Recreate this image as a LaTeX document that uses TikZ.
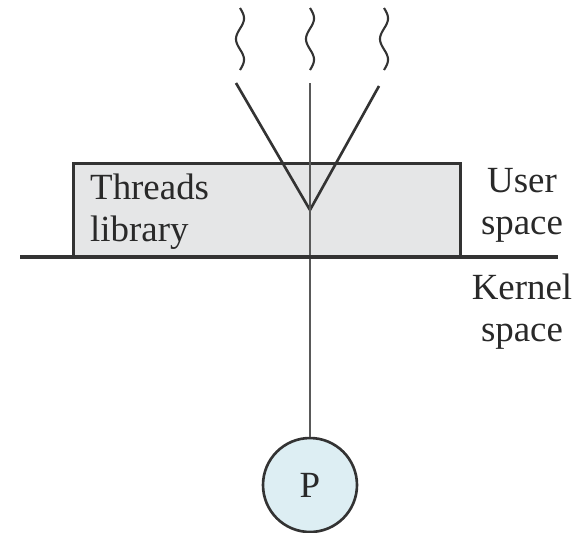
\documentclass[tikz,border=0pt]{standalone}
\usepackage{fontspec}
\setmainfont{Liberation Serif}
\usetikzlibrary{positioning}
\definecolor{libgray}{HTML}{E5E6E7}
\definecolor{procblue}{HTML}{DDEEF3}
\definecolor{inkgray}{HTML}{333333}
\tikzset{%
	wire/.style={draw=inkgray, line width=1.5pt},
	libbox/.style={rectangle, draw=inkgray, fill=libgray, line width=1.7pt, minimum width=7.76cm, minimum height=1.88cm},
	proc/.style={circle, draw=inkgray, fill=procblue, line width=1.5pt, minimum size=1.88cm, inner sep=0pt},
	label/.style={text=inkgray!80!black, font=\fontsize{21}{24}\selectfont},
	spacelab/.style={label, align=center}
}
\begin{document}
\begin{tikzpicture}[x=0.02cm, y=-0.02cm]
\useasboundingbox (0,0) rectangle (581,532);

\node (lib) [libbox] at (267,210) {};
\node (libtext) [label, align=left, anchor=west] at (84,212) {Threads\\library};
\node (user) [spacelab] at (522,205) {User\\space};
\node (kernel) [spacelab] at (522,312) {Kernel\\space};
\node (P) [proc, label] at (310,485) {P};

\coordinate (join) at (310,210);
\coordinate (t1) at (236,83);
\coordinate (t2) at (310,83);
\coordinate (t3) at (379,86);

% user threads
\foreach \xpos in {240,310,384}
  \draw[wire, line width=1.2pt] plot[domain=0:62, samples=50, smooth] ({\xpos+4*sin(\x*8.71)}, {8+\x});

\draw[wire] (t1) -- (join);
\draw[wire] (t3) -- (join);
\draw[wire, draw=gray!70!black] (t2) -- (P);

% user/kernel boundary
\draw[wire, line width=2pt] (20,257) -- (558,257);

\end{tikzpicture}
\end{document}
